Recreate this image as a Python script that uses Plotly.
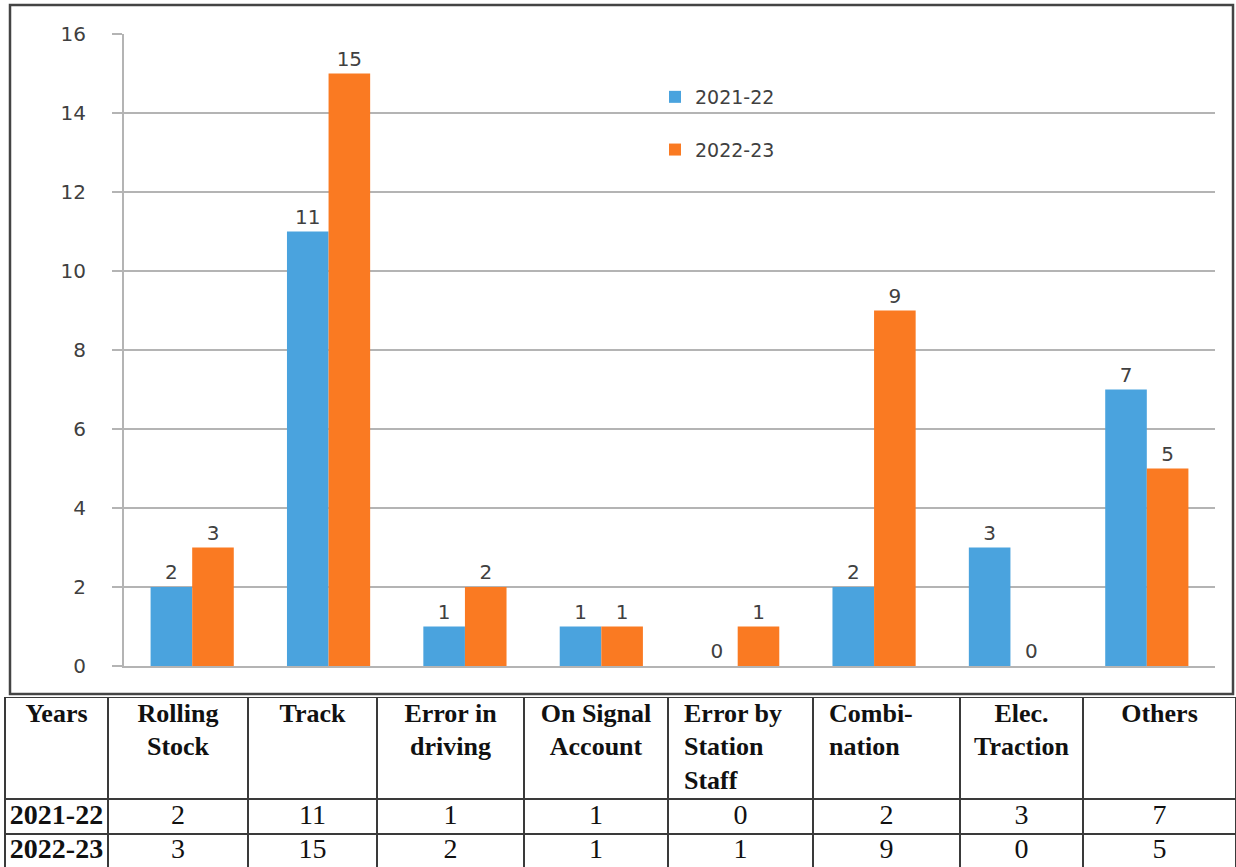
import plotly.graph_objects as go

# Accident causes (short names used on the category axis)
causes = ["Rolling Stock", "Track", "Error in driving", "On Signal Account",
          "Error by Station Staff", "Combination", "Elec. Traction", "Others"]

# Column headings of the data table below the chart
table_headers = ["Years", "Rolling<br>Stock", "Track", "Error in<br>driving",
                 "On Signal<br>Account", "Error by<br>Station<br>Staff",
                 "Combi-<br>nation", "Elec.<br>Traction", "Others"]

years = ["2021-22", "2022-23"]
counts_2021_22 = [2, 11, 1, 1, 0, 2, 3, 7]
counts_2022_23 = [3, 15, 2, 1, 1, 9, 0, 5]

y_ticks = [0, 2, 4, 6, 8, 10, 12, 14, 16]

W, H = 1236, 867
BLUE = "#4aa3de"
ORANGE = "#fa7a22"
TEXT = "#404040"
GRID = "#b4b4b4"
SANS = "DejaVu Sans"
SERIF = "Liberation Serif"
INK = "#111111"
RULE = "#3a3a3a"

fig = go.Figure()

for name, vals, col in [(years[0], counts_2021_22, BLUE), (years[1], counts_2022_23, ORANGE)]:
    fig.add_trace(go.Bar(
        x=causes, y=vals, name=name, legendgroup=name,
        marker=dict(color=col, line=dict(width=0)),
        text=vals, texttemplate="%{y}", textposition="outside",
        textangle=0, cliponaxis=False,
        outsidetextfont=dict(family=SANS, size=20, color=TEXT),
        xaxis="x", yaxis="y",
    ))

# ---- data table drawn on its own pixel-like axes (x2 / y2) ----
col_edges = [5, 108, 248, 377, 524, 668, 813, 960, 1083, 1236]
row_edges = [0, 102, 137, 175]      # header, 2021-22 row, 2022-23 row
header_left = [False, False, False, False, False, True, True, False, False]

hx, htxt, hpos = [], [], []
for i, h in enumerate(table_headers):
    l, r = col_edges[i], col_edges[i + 1]
    if header_left[i]:
        hx.append(l + 16)
        hpos.append("bottom right")
    else:
        hx.append((l + r) / 2)
        hpos.append("bottom center")
    htxt.append("<b>%s</b>" % h)

fig.add_trace(go.Scatter(
    x=hx, y=[5] * len(hx), text=htxt, mode="text", textposition=hpos,
    textfont=dict(family=SERIF, size=26, color=INK),
    showlegend=False, hoverinfo="skip", xaxis="x2", yaxis="y2", cliponaxis=False,
))

centers = [(col_edges[i] + col_edges[i + 1]) / 2 for i in range(len(col_edges) - 1)]
row_mid = [(row_edges[1] + row_edges[2]) / 2, (row_edges[2] + 170) / 2]

# Year labels (bold) in the first column
fig.add_trace(go.Scatter(
    x=[centers[0]] * 2, y=row_mid, text=["<b>%s</b>" % y for y in years],
    mode="text", textposition="middle center",
    textfont=dict(family=SERIF, size=28, color=INK),
    showlegend=False, hoverinfo="skip", xaxis="x2", yaxis="y2", cliponaxis=False,
))

# Counts in the remaining columns
vx, vy, vt = [], [], []
for row, vals in zip(row_mid, [counts_2021_22, counts_2022_23]):
    for c, v in zip(centers[1:], vals):
        vx.append(c)
        vy.append(row)
        vt.append(str(v))
fig.add_trace(go.Scatter(
    x=vx, y=vy, text=vt, mode="text", textposition="middle center",
    textfont=dict(family=SERIF, size=28, color=INK),
    showlegend=False, hoverinfo="skip", xaxis="x2", yaxis="y2", cliponaxis=False,
))

shapes = [
    # frame around the chart
    dict(type="rect", xref="paper", yref="paper",
         x0=10 / W, x1=1233 / W, y0=1 - 694 / H, y1=1 - 5 / H,
         line=dict(color="#444444", width=2.5), layer="below"),
]
for yv in row_edges[:-1]:
    shapes.append(dict(type="line", xref="x2", yref="y2",
                       x0=col_edges[0], x1=col_edges[-1], y0=yv, y1=yv,
                       line=dict(color=RULE, width=2)))
for xv in col_edges:
    shapes.append(dict(type="line", xref="x2", yref="y2",
                       x0=xv, x1=xv, y0=row_edges[0], y1=row_edges[-1],
                       line=dict(color=RULE, width=2)))

fig.update_layout(
    width=W, height=H,
    margin=dict(l=0, r=0, t=0, b=0, pad=0, autoexpand=False),
    paper_bgcolor="white", plot_bgcolor="white",
    barmode="group", bargap=0.39, bargroupgap=0,
    showlegend=True,
    legend=dict(
        x=655 / W, y=1 - 78 / H, xanchor="left", yanchor="top",
        bgcolor="rgba(0,0,0,0)", tracegroupgap=25,
        font=dict(family=SANS, size=19, color=TEXT),
    ),
    xaxis=dict(
        domain=[124 / W, 1215 / W],
        range=[-0.5, 7.5],
        showticklabels=False, showgrid=False, zeroline=False,
        showline=True, linecolor=GRID, linewidth=2,
        fixedrange=True,
    ),
    yaxis=dict(
        domain=[1 - 666 / H, 1 - 34 / H],
        range=[0, 16], tickvals=y_ticks,
        showgrid=True, gridcolor=GRID, gridwidth=2,
        zeroline=False,
        showline=True, linecolor=GRID, linewidth=2,
        ticks="outside", ticklen=10, tickcolor=GRID, tickwidth=2,
        ticklabelstandoff=22,
        tickfont=dict(family=SANS, size=20, color=TEXT),
        fixedrange=True,
    ),
    xaxis2=dict(domain=[0, 1], range=[0, W], visible=False,
                anchor="y2", fixedrange=True),
    yaxis2=dict(domain=[0, 1 - 697 / H], range=[170, 0], visible=False,
                anchor="x2", fixedrange=True),
    shapes=shapes,
)

fig.write_html("out.html")
